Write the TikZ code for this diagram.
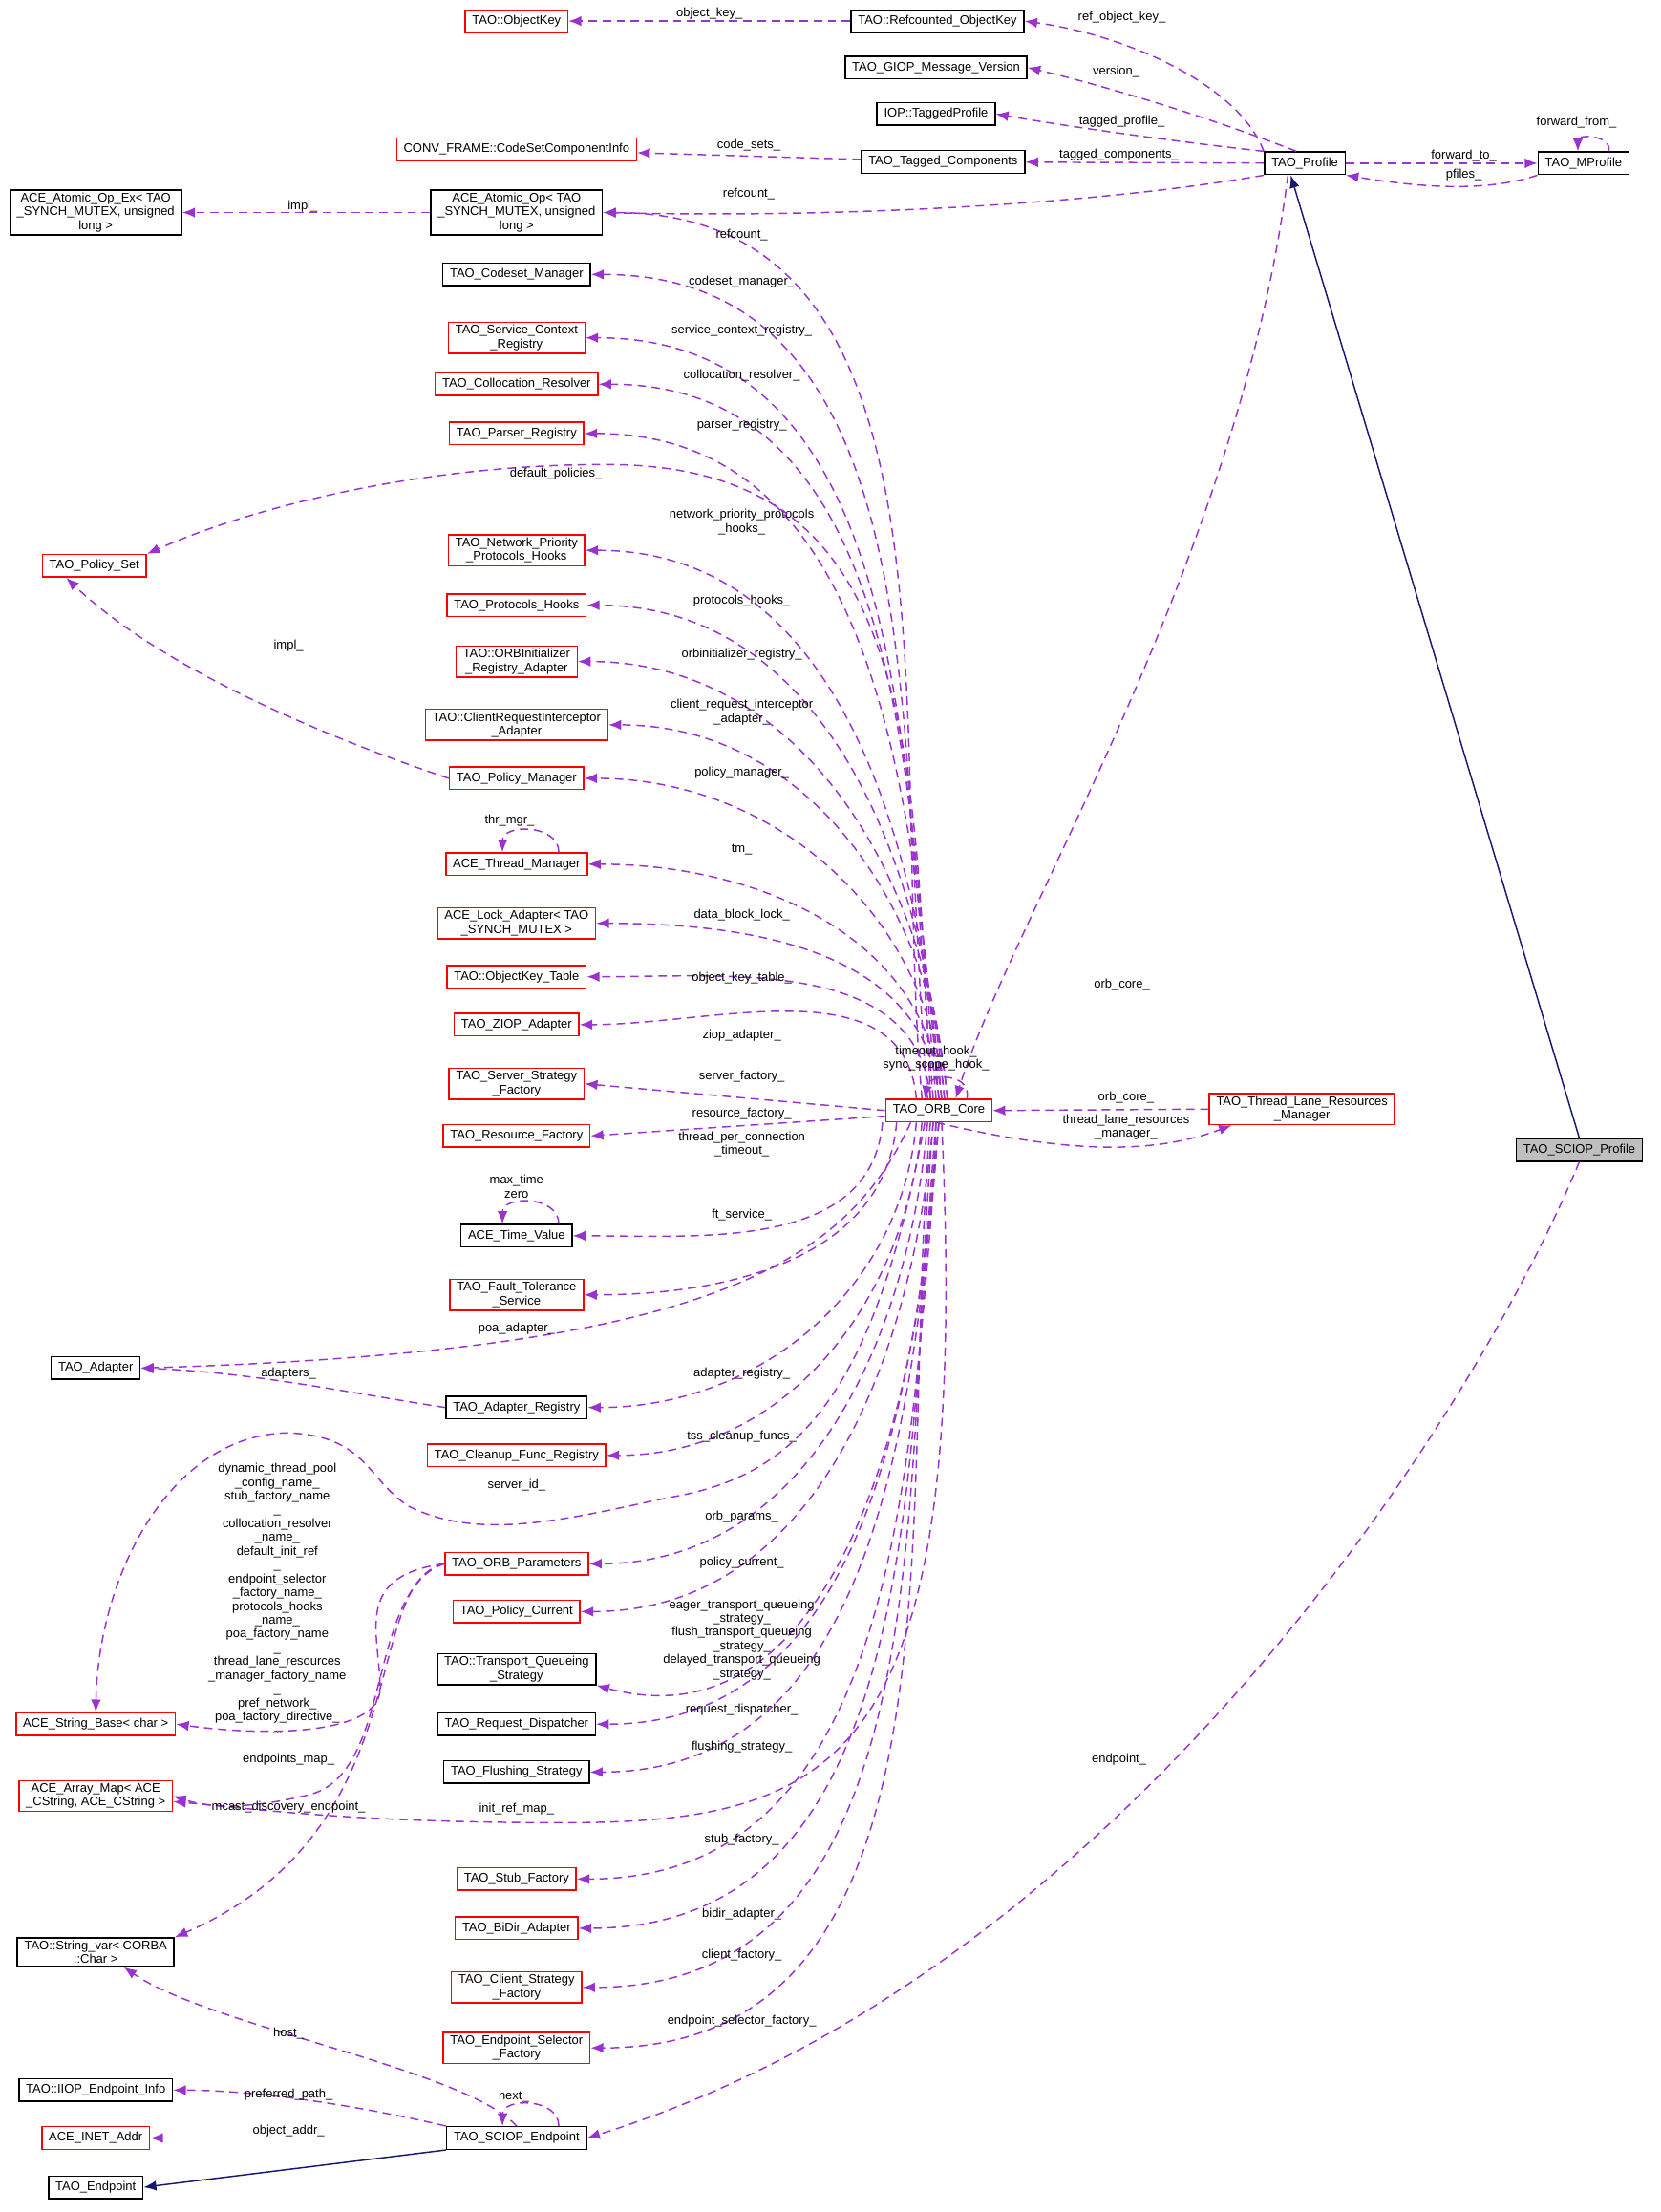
\documentclass[tikz,border=0pt]{standalone}
\usepackage{fontspec}
\setmainfont{Liberation Sans}
\usetikzlibrary{arrows.meta}
\definecolor{depcol}{HTML}{9A32CD}
\definecolor{inhcol}{HTML}{191970}
\tikzset{
  cls/.style={draw=black,line width=0.5pt,inner xsep=2.5pt,inner ysep=1pt,minimum height=8pt,align=center,font=\fontsize{4.4}{4.9}\selectfont},
  clsred/.style={cls,draw=red},
  dep/.style={draw=depcol,line width=0.5pt,dash pattern=on 3pt off 2pt,-{Latex[length=4.5pt,width=3.6pt]}},
  inh/.style={draw=inhcol,line width=0.5pt,-{Latex[length=4.5pt,width=3.6pt]}},
  lbl/.style={inner sep=0pt,align=center,font=\fontsize{4.4}{4.9}\selectfont}
}
\begin{document}
\begin{tikzpicture}[x=0.5pt,y=-0.5pt]
\useasboundingbox (0,0) rectangle (1180,1571.6);
% top row
\node[clsred] (okey) at (367,15) {TAO::ObjectKey};
\node[cls] (rokey) at (666,15) {TAO::Refcounted\_ObjectKey};
\node[cls] (giop) at (665,48) {TAO\_GIOP\_Message\_Version};
\node[cls] (tprof) at (665,81) {IOP::TaggedProfile};
\node[clsred] (csinfo) at (367,106) {CONV\_FRAME::CodeSetComponentInfo};
\node[cls] (tcomp) at (670,115) {TAO\_Tagged\_Components};
\node[cls] (prof) at (927,116) {TAO\_Profile};
\node[cls] (mprof) at (1125,116) {TAO\_MProfile};
\node[cls] (aopex) at (68,151) {ACE\_Atomic\_Op\_Ex< TAO\\\_SYNCH\_MUTEX, unsigned\\long >};
\node[cls] (aop) at (367,151) {ACE\_Atomic\_Op< TAO\\\_SYNCH\_MUTEX, unsigned\\long >};
% middle column
\node[cls] (codeset) at (367,195) {TAO\_Codeset\_Manager};
\node[clsred] (svcctx) at (367,240) {TAO\_Service\_Context\\\_Registry};
\node[clsred] (colloc) at (367,273) {TAO\_Collocation\_Resolver};
\node[clsred] (parser) at (367,308) {TAO\_Parser\_Registry};
\node[clsred] (polset) at (67,402) {TAO\_Policy\_Set};
\node[clsred] (netprio) at (367,391) {TAO\_Network\_Priority\\\_Protocols\_Hooks};
\node[clsred] (prothooks) at (367,430) {TAO\_Protocols\_Hooks};
\node[clsred] (orbinit) at (367,470) {TAO::ORBInitializer\\\_Registry\_Adapter};
\node[clsred] (clientreq) at (367,515) {TAO::ClientRequestInterceptor\\\_Adapter};
\node[clsred] (polmgr) at (367,553) {TAO\_Policy\_Manager};
\node[clsred] (thrmgr) at (367,614) {ACE\_Thread\_Manager};
\node[clsred] (lock) at (367,656) {ACE\_Lock\_Adapter< TAO\\\_SYNCH\_MUTEX >};
\node[clsred] (oktable) at (367,694) {TAO::ObjectKey\_Table};
\node[clsred] (ziop) at (367,728) {TAO\_ZIOP\_Adapter};
\node[clsred] (server) at (367,770) {TAO\_Server\_Strategy\\\_Factory};
\node[clsred] (resfac) at (367,807) {TAO\_Resource\_Factory};
\node[cls] (timeval) at (367,878) {ACE\_Time\_Value};
\node[clsred] (ft) at (367,920) {TAO\_Fault\_Tolerance\\\_Service};
\node[cls] (adapter) at (68,972) {TAO\_Adapter};
\node[cls] (adreg) at (367,1000) {TAO\_Adapter\_Registry};
\node[clsred] (cleanup) at (367,1034) {TAO\_Cleanup\_Func\_Registry};
\node[clsred] (orbparams) at (367,1111) {TAO\_ORB\_Parameters};
\node[clsred] (polcur) at (367,1145) {TAO\_Policy\_Current};
\node[cls] (tqs) at (367,1186) {TAO::Transport\_Queueing\\\_Strategy};
\node[cls] (reqdisp) at (367,1225) {TAO\_Request\_Dispatcher};
\node[cls] (flush) at (367,1259) {TAO\_Flushing\_Strategy};
\node[clsred] (strbase) at (68,1225) {ACE\_String\_Base< char >};
\node[clsred] (arrmap) at (68,1276) {ACE\_Array\_Map< ACE\\\_CString, ACE\_CString >};
\node[clsred] (stub) at (367,1335) {TAO\_Stub\_Factory};
\node[clsred] (bidir) at (367,1370) {TAO\_BiDir\_Adapter};
\node[clsred] (client) at (367,1412) {TAO\_Client\_Strategy\\\_Factory};
\node[clsred] (epsel) at (367,1455) {TAO\_Endpoint\_Selector\\\_Factory};
\node[cls] (strvar) at (68,1387) {TAO::String\_var< CORBA\\::Char >};
\node[cls] (iiopinfo) at (68,1485) {TAO::IIOP\_Endpoint\_Info};
\node[clsred] (inet) at (68,1519) {ACE\_INET\_Addr};
\node[cls] (endpt) at (68,1554) {TAO\_Endpoint};
\node[cls] (sciopep) at (367,1519) {TAO\_SCIOP\_Endpoint};
% right part
\node[clsred] (core) at (667,789) {TAO\_ORB\_Core};
\node[clsred] (lane) at (925,788) {TAO\_Thread\_Lane\_Resources\\\_Manager};
\node[cls,fill=black!25] (sciopprof) at (1122,817) {TAO\_SCIOP\_Profile};

% profile side
\draw[dep] (rokey) -- (okey) node[lbl,pos=0.5,above=0.5pt] {object\_key\_};
\draw[dep] (prof.north west) .. controls (880,60) and (800,25) .. (rokey.east);
\node[lbl] at (797,12) {ref\_object\_key\_};
\draw[dep] ([xshift=-3pt]prof.north) .. controls (850,80) and (780,60) .. (giop.east);
\node[lbl] at (793,51) {version\_};
\draw[dep] (prof.north west) .. controls (830,100) and (760,90) .. (tprof.east);
\node[lbl] at (797,86) {tagged\_profile\_};
\draw[dep] (tcomp) -- (csinfo);
\node[lbl] at (532,103) {code\_sets\_};
\draw[dep] (prof) -- (tcomp);
\node[lbl] at (795,110) {tagged\_components\_};
\draw[dep] (prof.south west) .. controls (780,145) and (600,155) .. (aop.east);
\node[lbl] at (532,138) {refcount\_};
\draw[dep] (aop) -- (aopex);
\node[lbl] at (215,147) {impl\_};
\draw[dep] (prof) -- (mprof);
\node[lbl] at (1040,111) {forward\_to\_};
\draw[dep] (mprof.south west) .. controls (1060,135) and (1020,135) .. (prof.south east);
\node[lbl] at (1040,124) {pfiles\_};
\draw[dep] ([xshift=9pt]mprof.north) to[out=80,in=90,looseness=1.4] ([xshift=-2pt]mprof.north);
\node[lbl] at (1120,87) {forward\_from\_};
\draw[dep] ([xshift=-6pt]prof.south) .. controls (880,400) and (720,650) .. ([xshift=6pt]core.north);
\node[lbl] at (797,700) {orb\_core\_};
\draw[inh] (sciopprof.north) -- ([xshift=-5pt]prof.south);

% ORB core upward members
\foreach \t/\dx/\tx/\ly in {aop/-6/refcount\_/167, codeset/-4/codeset\_manager\_/200,
  svcctx/-2/service\_context\_registry\_/235, colloc/-1/collocation\_resolver\_/267,
  parser/0/parser\_registry\_/302, netprio/1/network\_priority\_protocols\\\_hooks\_/371,
  prothooks/2/protocols\_hooks\_/427, orbinit/3/orbinitializer\_registry\_/465,
  clientreq/3/client\_request\_interceptor\\\_adapter\_/506, polmgr/2/policy\_manager\_/549,
  thrmgr/1/tm\_/604, lock/0/data\_block\_lock\_/650, oktable/-3/object\_key\_table\_/695,
  ziop/-8/ziop\_adapter\_/736}
{
  \draw[dep] ([xshift=\dx pt]core.north) to[out=95,in=0] (\t.east);
  \node[lbl] at (527,\ly) {\tx};
}
\draw[dep] ([xshift=-3pt]core.north) .. controls (650,500) and (640,330) .. (430,330) .. controls (300,330) and (180,360) .. (polset.north east);
\node[lbl] at (395,337) {default\_policies\_};
\draw[dep] (polmgr.west) .. controls (250,530) and (120,480) .. ([xshift=-10pt]polset.south);
\node[lbl] at (205,459) {impl\_};
\draw[dep] ([xshift=15pt]thrmgr.north) to[out=90,in=90,looseness=1.3] ([xshift=-5pt]thrmgr.north);
\node[lbl] at (362,583) {thr\_mgr\_};
\draw[dep] (core.west) -- (server.east);
\node[lbl] at (527,765) {server\_factory\_};
\draw[dep] ([yshift=-2pt]core.west) -- (resfac.east);
\node[lbl] at (527,791) {resource\_factory\_};
\draw[dep] ([xshift=10pt]core.north) to[out=80,in=80,looseness=1.6] ([xshift=-5pt]core.north);
\node[lbl] at (665,752) {timeout\_hook\_\\sync\_scope\_hook\_};
\draw[dep] (lane.west) -- (core.east);
\node[lbl] at (800,780) {orb\_core\_};
\draw[dep] ([xshift=-20pt]core.south east) .. controls (760,820) and (820,820) .. ([xshift=-25pt]lane.south);
\node[lbl] at (800,801) {thread\_lane\_resources\\\_manager\_};

% ORB core downward members
\foreach \t/\dx/\tx/\ly in {timeval/-20/thread\_per\_connection\\\_timeout\_/813,
  ft/-15/ft\_service\_/863, adreg/-8/adapter\_registry\_/976,
  cleanup/-6/tss\_cleanup\_funcs\_/1021, orbparams/-4/orb\_params\_/1078,
  polcur/-2/policy\_current\_/1110, reqdisp/0/request\_dispatcher\_/1215,
  flush/0/flushing\_strategy\_/1241, stub/0/stub\_factory\_/1307,
  bidir/-1/bidir\_adapter\_/1360, client/-2/client\_factory\_/1389,
  epsel/-3/endpoint\_selector\_factory\_/1436}
{
  \draw[dep] ([xshift=\dx pt]core.south) to[out=-95,in=0] (\t.east);
  \node[lbl] at (527,\ly) {\tx};
}
\draw[dep] ([xshift=15pt]timeval.north) to[out=90,in=90,looseness=1.3] ([xshift=-5pt]timeval.north);
\node[lbl] at (367,843) {max\_time\\zero};
\draw[dep] ([xshift=-1pt]core.south) to[out=-92,in=-15] (tqs.south east);
\node[lbl] at (527,1165) {eager\_transport\_queueing\\\_strategy\_\\flush\_transport\_queueing\\\_strategy\_\\delayed\_transport\_queueing\\\_strategy\_};
\draw[dep] ([xshift=-10pt]core.south) .. controls (600,900) and (500,960) .. (adapter.east);
\node[lbl] at (367,944) {poa\_adapter\_};
\draw[dep] (adreg.west) .. controls (250,990) and (180,975) .. (adapter.east);
\node[lbl] at (205,976) {adapters\_};
\draw[dep] ([xshift=-5pt]core.south) .. controls (620,1000) and (560,1050) .. (475,1064) .. controls (400,1080) and (340,1095) .. (290,1070) .. controls (260,1050) and (260,1020) .. (204,1018) .. controls (120,1020) and (70,1120) .. (strbase.north);
\node[lbl] at (367,1055) {server\_id\_};
\draw[dep] ([xshift=1pt]core.south) .. controls (690,1250) and (600,1295) .. (400,1295) .. controls (250,1295) and (180,1285) .. ([yshift=-2pt]arrmap.east);
\node[lbl] at (367,1285) {init\_ref\_map\_};

% parameters and endpoint
\draw[dep] (orbparams.west) .. controls (250,1120) and (270,1160) .. (270,1200) .. controls (270,1230) and (200,1235) .. (strbase.east);
\node[lbl] at (197,1136) {dynamic\_thread\_pool\\\_config\_name\_\\stub\_factory\_name\\\_\\collocation\_resolver\\\_name\_\\default\_init\_ref\\\_\\endpoint\_selector\\\_factory\_name\_\\protocols\_hooks\\\_name\_\\poa\_factory\_name\\\_\\thread\_lane\_resources\\\_manager\_factory\_name\\\_\\pref\_network\_\\poa\_factory\_directive\_\\...};
\draw[dep] (orbparams.west) .. controls (260,1130) and (280,1260) .. (220,1275) .. controls (180,1285) and (150,1285) .. (arrmap.east);
\node[lbl] at (205,1250) {endpoints\_map\_};
\draw[dep] (orbparams.west) .. controls (255,1125) and (300,1300) .. (strvar.north east);
\node[lbl] at (205,1284) {mcast\_discovery\_endpoint\_};
\draw[dep] (sciopep.north) .. controls (330,1470) and (150,1440) .. ([xshift=10pt]strvar.south);
\node[lbl] at (205,1445) {host\_};
\draw[dep] (sciopep.north west) .. controls (250,1495) and (180,1485) .. (iiopinfo.east);
\node[lbl] at (205,1488) {preferred\_path\_};
\draw[dep] (sciopep) -- (inet);
\node[lbl] at (205,1514) {object\_addr\_};
\draw[dep] ([xshift=15pt]sciopep.north) to[out=90,in=90,looseness=1.3] ([xshift=-5pt]sciopep.north);
\node[lbl] at (365,1490) {next\_};
\draw[inh] (sciopep.south west) -- (endpt.east);
\draw[dep] (sciopprof.south) .. controls (1050,1000) and (800,1400) .. (sciopep.east);
\node[lbl] at (795,1250) {endpoint\_};
\end{tikzpicture}
\end{document}
